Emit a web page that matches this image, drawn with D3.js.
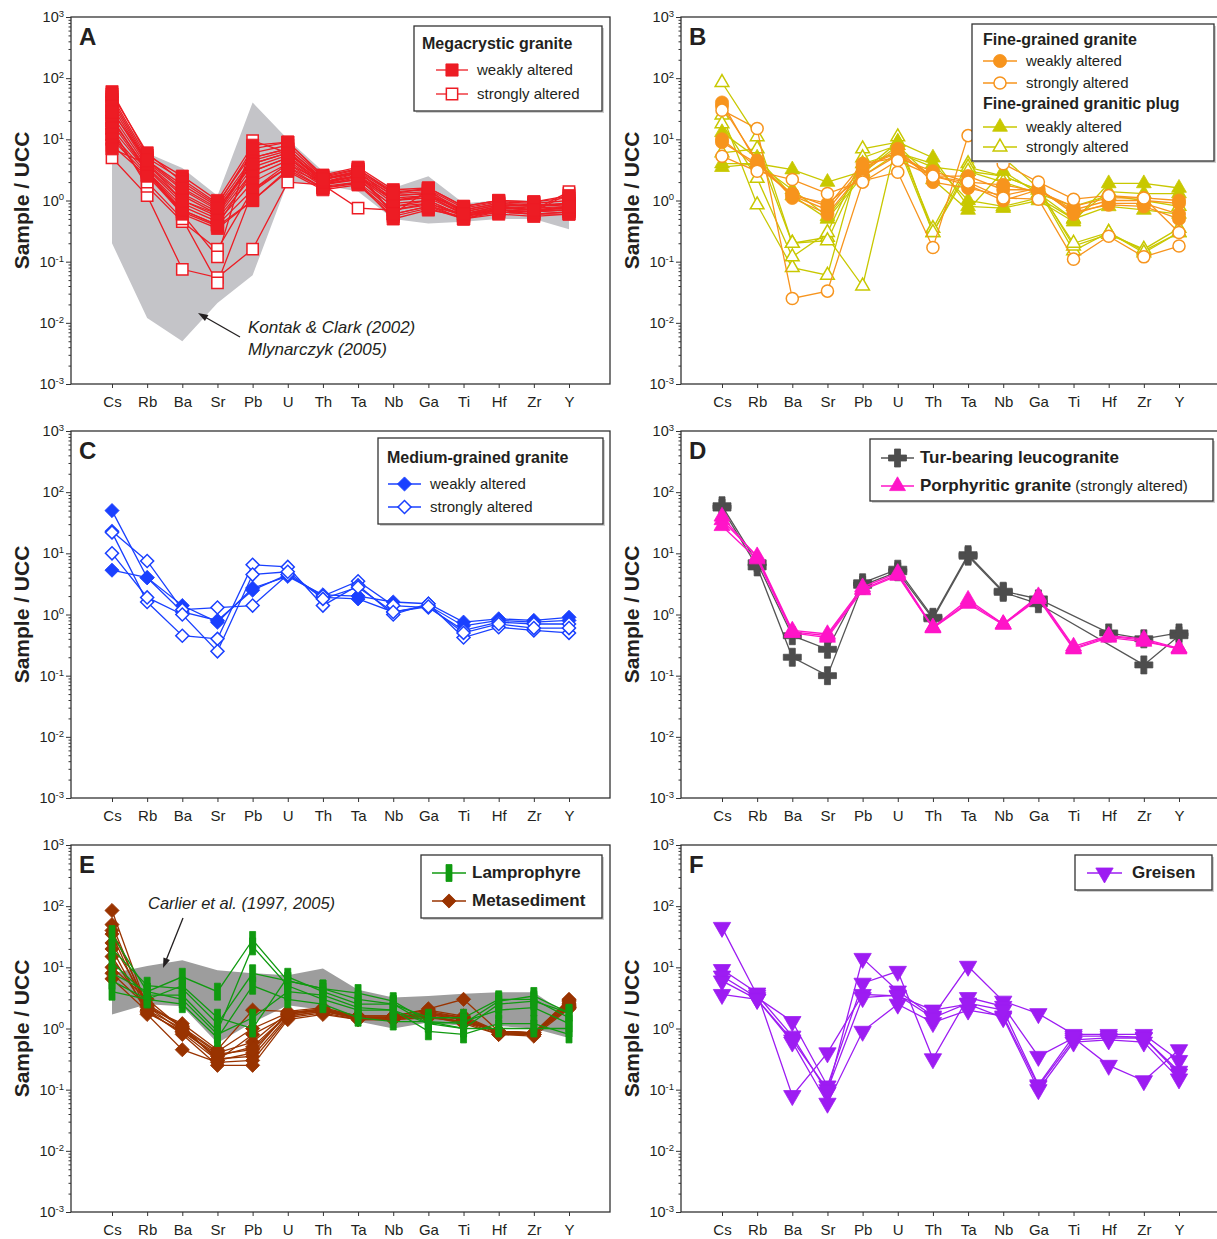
<!DOCTYPE html>
<html>
<head>
<meta charset="utf-8">
<script src="https://cdn.jsdelivr.net/npm/d3@7"></script>
<style>
  body { margin: 0; background: #fff; }
  svg text { font-family: "Liberation Sans", Arial, Helvetica, sans-serif; fill: #231f20; }
</style>
</head>
<body>
<svg id="fig" width="1217" height="1239"></svg>
<script>
// element order along the x axis
const elements = ['Cs', 'Rb', 'Ba', 'Sr', 'Pb', 'U', 'Th', 'Ta', 'Nb', 'Ga', 'Ti', 'Hf', 'Zr', 'Y'];
const decades = [-3, -2, -1, 0, 1, 2, 3];

// --- panel A: megacrystic granite (Sample / UCC) ---
const megaWeak = [
  [60, 5.5, 2.5, 1.0, 8, 9, 2.6, 3.5, 1.5, 1.6, 0.8, 1.0, 0.95, 1.1],
  [50, 5, 2.2, 0.9, 6, 8, 2.4, 3.2, 1.4, 1.5, 0.75, 0.95, 0.9, 1.0],
  [45, 4.5, 1.8, 0.8, 5, 7, 2.2, 3.0, 1.3, 1.4, 0.7, 0.9, 0.85, 0.9],
  [40, 4.2, 1.5, 0.7, 4.5, 6.5, 2.0, 2.8, 1.2, 1.3, 0.65, 0.85, 0.8, 0.85],
  [35, 4, 1.3, 0.65, 4, 6, 2.0, 2.6, 1.1, 1.2, 0.6, 0.8, 0.75, 0.8],
  [30, 3.8, 1.2, 0.6, 3.5, 5.5, 1.9, 2.5, 1.0, 1.1, 0.6, 0.8, 0.7, 0.75],
  [25, 3.5, 1.0, 0.55, 3, 5, 1.8, 2.4, 0.9, 1.0, 0.55, 0.75, 0.7, 0.7],
  [20, 3.3, 0.9, 0.5, 2.5, 4.5, 1.8, 2.2, 0.8, 0.9, 0.55, 0.7, 0.65, 0.7],
  [18, 3, 0.8, 0.45, 2, 4, 1.7, 2.0, 0.7, 0.85, 0.5, 0.7, 0.6, 0.65],
  [15, 3, 0.7, 0.4, 1.5, 3.5, 1.6, 1.9, 0.6, 0.8, 0.5, 0.65, 0.6, 0.6],
  [12, 2.8, 0.65, 0.38, 1.0, 3, 1.5, 1.8, 0.55, 0.75, 0.5, 0.6, 0.55, 0.6],
  [10, 2.6, 0.6, 0.35, 1.0, 3.2, 1.6, 2.0, 0.5, 0.7, 0.55, 0.65, 0.6, 0.65],
  [8, 2.5, 0.7, 0.4, 3, 5, 2.0, 2.5, 0.6, 1.5, 0.6, 0.7, 0.65, 0.7],
  [7, 4, 1.0, 0.6, 5, 7, 2.3, 3.0, 1.0, 1.2, 0.7, 0.9, 0.8, 0.9],
  [55, 6, 2.0, 0.85, 7, 9, 2.5, 3.3, 1.3, 1.6, 0.8, 1.0, 0.95, 1.2],
  [28, 4.5, 1.6, 0.75, 4, 6, 2.2, 2.9, 0.6, 0.8, 0.6, 0.75, 0.7, 0.8]
];
const megaStrong = [
  [5, 1.2, 0.075, 0.055, 0.16, 2.0, 1.8, 0.75, 0.7, 0.9, 0.6, 0.7, 0.65, 1.3],
  [15, 1.7, 0.45, 0.16, 1.5, 4, 2.0, 2.5, 1.0, 1.2, 0.6, 0.8, 0.7, 1.4],
  [22, 3, 0.6, 0.12, 9.5, 6, 2.2, 2.8, 1.2, 1.3, 0.65, 0.85, 0.8, 0.9],
  [12, 2, 0.5, 0.045, 1.4, 3.5, 1.9, 2.2, 0.8, 1.0, 0.55, 0.7, 0.65, 0.8]
];
// Kontak & Clark (2002), Mlynarczyk (2005) envelope
const kontakUpper = [45, 6, 3.4, 1.2, 40, 10, 3, 3.2, 1.6, 2.5, 0.9, 1.0, 1.0, 1.0];
const kontakLower = [0.2, 0.012, 0.005, 0.021, 0.06, 2.0, 1.8, 1.4, 0.5, 0.42, 0.45, 0.5, 0.5, 0.34];

// --- panel B: fine-grained granite and granitic plug ---
const fineWeak = [
  [40, 4, 1.2, 0.7, 3.5, 6, 2.5, 2.5, 1.5, 1.5, 0.7, 1.0, 1.0, 0.9],
  [35, 4.5, 1.1, 0.6, 3, 7, 2, 1.6, 1.2, 1.6, 0.6, 0.9, 0.9, 0.6],
  [10, 3.5, 1.3, 0.8, 4, 5, 3, 2, 1.8, 1.4, 0.8, 1.1, 1.1, 1.0],
  [9, 4, 1.2, 0.9, 2.5, 5.5, 2.5, 1.8, 1.0, 1.5, 0.65, 0.85, 0.8, 0.5]
];
const fineStrong = [
  [5.3, 3, 2.2, 1.3, 2.1, 2.9, 0.17, 11.5, 4, 2, 1.05, 1.2, 1.1, 0.3],
  [30, 15, 0.025, 0.033, 2, 4.5, 2.5, 2, 1.1, 1.05, 0.11, 0.26, 0.12, 0.18]
];
const plugWeak = [
  [3.5, 4, 3.2, 2, 3, 9, 5, 0.8, 0.75, 1.0, 0.45, 1.9, 1.9, 1.6],
  [13, 5, 1.2, 0.5, 2.5, 6, 4, 1.0, 0.8, 1.1, 0.5, 1.4, 1.3, 1.3],
  [4, 4, 1.5, 0.55, 2.8, 8, 2.2, 0.7, 3, 1.3, 0.5, 0.8, 0.7, 0.6]
];
const plugStrong = [
  [85, 11, 0.2, 0.25, 0.04, 11, 0.3, 3, 2.5, 1.5, 0.15, 0.3, 0.15, 0.3],
  [25, 0.85, 0.08, 0.06, 7, 9, 0.35, 4, 5, 1.6, 0.18, 0.28, 0.16, 0.35],
  [18, 2.3, 0.12, 0.3, 5, 8, 0.3, 3.5, 2.5, 1.5, 0.2, 0.3, 0.14, 0.3],
  [6, 7, 0.2, 0.22, 4, 6, 3.5, 3, 2, 1.3, 0.8, 1.2, 1.0, 0.8]
];

// --- panel C: medium-grained granite ---
const mediumWeak = [
  [50, 4, 1.4, 0.75, 2.7, 4.2, 2.1, 2, 1.6, 1.5, 0.75, 0.85, 0.8, 0.9],
  [5.3, 4, 1.1, 0.8, 2.5, 4.5, 1.9, 1.8, 1.1, 1.4, 0.65, 0.8, 0.75, 0.8]
];
const mediumStrong = [
  [23, 7.5, 1.2, 1.3, 1.4, 4.5, 2, 3.5, 1.4, 1.3, 0.55, 0.75, 0.7, 0.7],
  [22, 1.6, 0.45, 0.4, 6.5, 6, 1.4, 3, 1.0, 1.5, 0.42, 0.62, 0.55, 0.5],
  [10, 1.9, 1.0, 0.25, 4.5, 5, 1.8, 2.8, 1.1, 1.35, 0.5, 0.7, 0.6, 0.6]
];

// --- panel D: Tur-bearing leucogranite, porphyritic granite ---
const turLeuco = [
  [60, 7, 0.45, 0.27, 3.3, 5.5, 0.9, 9.5, 2.4, 1.8, null, 0.5, 0.4, 0.5],
  [55, 6, 0.2, 0.1, 3.0, 5.0, 0.85, 9.0, 2.3, 1.5, null, null, 0.15, 0.45]
];
const porphyritic = [
  [35, 9, 0.55, 0.48, 2.8, 4.8, 0.62, 1.75, 0.7, 2.0, 0.3, 0.45, 0.4, 0.28],
  [28, 8, 0.5, 0.42, 2.5, 4.3, 0.6, 1.5, 0.68, 1.8, 0.27, 0.42, 0.36, 0.28],
  [40, 8.5, 0.52, 0.45, 2.6, 4.5, 0.6, 1.6, 0.7, 1.9, 0.28, 0.44, 0.38, 0.27]
];

// --- panel E: lamprophyre and metasediment ---
const lamprophyre = [
  [35, 4, 7, 4, 28, 6, 4.5, 3.8, 2.8, 1.3, 1.2, 2.8, 3.4, 1.8],
  [20, 5, 4.5, 1.2, 8, 6, 4.5, 3.0, 2.5, 1.5, 1.5, 3.0, 3.0, 1.5],
  [12, 3.5, 3.5, 0.9, 22, 5, 3, 2.0, 2.0, 0.9, 0.8, 1.2, 1.2, 0.8],
  [4, 3, 2.5, 0.7, 5, 3, 2.5, 1.5, 1.3, 1.3, 1.0, 1.0, 1.0, 1.0],
  [6, 3, 5, 1.5, 1.0, 7, 4, 2.5, 2.5, 1.2, 1.3, 2.0, 2.2, 1.2],
  [8, 4, 3, 0.8, 1.5, 4, 3.5, 2.2, 2.0, 1.2, 1.0, 2.5, 2.8, 1.8]
];
const metasediment = [
  [85, 2.2, 1.2, 0.45, 2.0, 1.9, 2.2, 1.6, 1.6, 2.1, 3.0, 0.9, 0.85, 3.0],
  [50, 2.0, 1.0, 0.4, 0.6, 1.8, 2.0, 1.5, 1.5, 1.8, 1.5, 0.85, 0.8, 2.8],
  [35, 1.8, 0.9, 0.35, 0.5, 1.7, 2.0, 1.5, 1.5, 1.7, 1.4, 0.85, 0.8, 2.5],
  [25, 2.5, 1.1, 0.3, 0.4, 1.8, 2.1, 1.5, 1.5, 1.6, 1.3, 0.9, 0.85, 2.3],
  [20, 1.7, 0.45, 0.28, 0.3, 1.5, 1.8, 1.4, 1.4, 1.5, 1.3, 0.8, 0.8, 2.2],
  [15, 2.0, 0.8, 0.25, 0.25, 1.4, 1.7, 1.4, 1.4, 1.6, 1.2, 0.8, 0.75, 2.1],
  [10, 3.0, 1.0, 0.32, 0.35, 1.6, 1.9, 1.5, 1.5, 1.7, 1.4, 0.85, 0.8, 2.4],
  [8, 2.3, 0.9, 0.38, 0.45, 1.7, 2.0, 1.5, 1.5, 1.9, 1.5, 0.9, 0.85, 2.6],
  [6.5, 1.9, 0.85, 0.3, 0.8, 1.6, 1.9, 1.45, 1.45, 1.8, 1.4, 0.85, 0.8, 2.2],
  [40, 2.4, 1.05, 0.42, 1.0, 1.8, 2.1, 1.6, 1.6, 2.0, 1.6, 0.9, 0.85, 2.9]
];
// Carlier et al. (1997, 2005) envelope
const carlierUpper = [8, 10.5, 13, 9, 8, 7.4, 9.6, 4.3, 3.2, 3.4, 3.7, 3.9, 3.9, 1.6];
const carlierLower = [1.7, 2.5, 2.3, 0.58, 1.25, 2.4, 2.0, 1.3, 1.0, 1.25, 1.1, 1.1, 1.0, 0.7];

// --- panel F: greisen ---
const greisen = [
  [45, 3.5, 0.75, 0.09, 14, 4.1, 1.6, 10.4, 2.8, 1.75, 0.8, 0.8, 0.8, 0.3],
  [9.2, 3.8, 0.08, 0.4, 3.6, 3.4, 2.0, 2.5, 1.5, 0.1, 0.6, 0.65, 0.6, 0.15],
  [7.2, 3.2, 1.3, 0.115, 5.5, 8.6, 0.32, 3.2, 2.3, 0.35, 0.7, 0.25, 0.14, 0.45],
  [3.6, 3.0, 0.6, 0.06, 0.9, 2.5, 1.25, 2.0, 1.6, 0.115, 0.65, 0.7, 0.7, 0.2],
  [6, 3, 0.65, 0.1, 3.2, 3.5, 1.5, 2.6, 2.0, 0.12, 0.75, 0.75, 0.72, 0.18]
];

// colours
const RED = '#ed1c24', ORANGE = '#f7941d', OLIVE = '#c8c800', BLUE = '#1a40ff';
const GREY = '#4d4d4d', MAGENTA = '#ff14c8', GREEN = '#109a10', BROWN = '#993300', PURPLE = '#9d1cf2';

const svg = d3.select('#fig');

const x = d3.scalePoint().domain(elements).range([112, 569]);
const y = d3.scaleLog().domain([1e-3, 1e3]).range([384, 17]);
const frame = { left: 71, right: 610, top: 17, bottom: 384 };

function symbolPath(shape, size) {
  if (shape === 'bar') return 'M-3,-8.5h6v17h-6Z';
  const types = {
    square: d3.symbolSquare, circle: d3.symbolCircle, triangle: d3.symbolTriangle,
    triDown: d3.symbolTriangle, diamond: d3.symbolSquare, cross: d3.symbolCross
  };
  return d3.symbol().type(types[shape]).size(size)();
}

function drawMarker(g, shape, size, color, open, cx, cy) {
  let rot = shape === 'diamond' ? 45 : shape === 'triDown' ? 180 : 0;
  g.append('path')
    .attr('d', symbolPath(shape, open ? size * 0.85 : size))
    .attr('transform', `translate(${cx},${cy}) rotate(${rot})`)
    .attr('fill', open ? '#fff' : color)
    .attr('stroke', color)
    .attr('stroke-width', open ? 1.5 : 0.8);
}

const line = d3.line().x(p => x(p.el)).y(p => y(p.v));

function drawGroup(g, grp) {
  const gg = g.append('g');
  grp.data.forEach(s => {
    const pts = elements.map((el, i) => ({ el, v: s[i] })).filter(p => p.v != null);
    gg.append('path').attr('d', line(pts))
      .attr('fill', 'none').attr('stroke', grp.line || grp.color).attr('stroke-width', 1.3);
  });
  grp.data.forEach(s => {
    elements.forEach((el, i) => {
      if (s[i] == null) return;
      drawMarker(gg, grp.shape, grp.size, grp.color, grp.open, x(el), y(s[i]));
    });
  });
}

function drawBand(g, upper, lower, fill) {
  const pts = elements.map((el, i) => [x(el), y(upper[i])])
    .concat(elements.map((el, i) => [x(el), y(lower[i])]).reverse());
  g.append('path').attr('d', 'M' + pts.join('L') + 'Z').attr('fill', fill);
}

function drawAxes(g, letter) {
  // y axis: decade ticks plus minor ticks
  const minors = [];
  decades.slice(0, -1).forEach(d => { for (let k = 2; k <= 9; k++) minors.push(k * Math.pow(10, d)); });
  const yMinor = g.append('g').attr('transform', `translate(${frame.left},0)`)
    .call(d3.axisLeft(y).tickValues(minors).tickSize(2.5).tickFormat(''));
  const yMajor = g.append('g').attr('transform', `translate(${frame.left},0)`)
    .call(d3.axisLeft(y).tickValues(decades.map(d => Math.pow(10, d))).tickSize(5).tickFormat(''));
  [yMinor, yMajor].forEach(a => {
    a.select('.domain').remove();
    a.selectAll('line').attr('stroke', '#333');
  });
  decades.forEach(d => {
    const t = g.append('text').attr('x', 64).attr('y', y(Math.pow(10, d))).attr('dy', '0.35em')
      .attr('text-anchor', 'end').attr('font-size', 14.5);
    t.append('tspan').text('10');
    t.append('tspan').attr('dy', '-0.55em').attr('font-size', 9.5).text(d);
  });

  const xAx = g.append('g').attr('transform', `translate(0,${frame.bottom})`)
    .call(d3.axisBottom(x).tickSize(4).tickPadding(8));
  xAx.select('.domain').remove();
  xAx.selectAll('line').attr('stroke', '#333');
  xAx.selectAll('text').attr('font-size', 15).attr('font-family', '"Liberation Sans", Arial, sans-serif')
    .attr('fill', '#231f20');

  g.append('rect').attr('x', frame.left).attr('y', frame.top)
    .attr('width', frame.right - frame.left).attr('height', frame.bottom - frame.top)
    .attr('fill', 'none').attr('stroke', '#333').attr('stroke-width', 1.3);

  g.append('text').attr('transform', `translate(29,${(frame.top + frame.bottom) / 2}) rotate(-90)`)
    .attr('text-anchor', 'middle').attr('font-size', 21).attr('font-weight', 'bold')
    .text('Sample / UCC');

  g.append('text').attr('x', 79).attr('y', 45).attr('font-size', 24).attr('font-weight', 'bold')
    .text(letter);
}

// legend: rows are {title} or {label, grp, bold, extra}
function drawLegend(g, box, rows) {
  g.append('rect').attr('x', box.x + 2).attr('y', box.y + 2).attr('width', box.w).attr('height', box.h)
    .attr('fill', '#d0d0d0');
  g.append('rect').attr('x', box.x).attr('y', box.y).attr('width', box.w).attr('height', box.h)
    .attr('fill', '#fff').attr('stroke', '#333').attr('stroke-width', 1.3);
  rows.forEach(r => {
    if (r.title) {
      g.append('text').attr('x', r.x).attr('y', r.y).attr('font-size', r.fs || 16)
        .attr('font-weight', 'bold').text(r.title);
      return;
    }
    const cy = r.y - 5;
    g.append('line').attr('x1', box.lx0).attr('x2', box.lx1).attr('y1', cy).attr('y2', cy)
      .attr('stroke', r.grp.line || r.grp.color).attr('stroke-width', 1.3);
    drawMarker(g, r.grp.shape, r.grp.size, r.grp.color, r.grp.open, (box.lx0 + box.lx1) / 2, cy);
    const t = g.append('text').attr('x', box.tx).attr('y', r.y).attr('font-size', r.fs || 15)
      .attr('font-weight', r.bold ? 'bold' : 'normal');
    t.append('tspan').text(r.label);
    if (r.extra) t.append('tspan').attr('font-weight', 'normal').attr('font-size', 15).text(r.extra);
  });
}

function drawArrow(g, x1, y1, x2, y2) {
  const a = Math.atan2(y2 - y1, x2 - x1), L = 10, W = 3.5;
  g.append('line').attr('x1', x1).attr('y1', y1).attr('x2', x2 - L * 0.8 * Math.cos(a)).attr('y2', y2 - L * 0.8 * Math.sin(a))
    .attr('stroke', '#231f20').attr('stroke-width', 1.3);
  const bx = x2 - L * Math.cos(a), by = y2 - L * Math.sin(a);
  g.append('path').attr('d', `M${x2},${y2}L${bx - W * Math.sin(a)},${by + W * Math.cos(a)}L${bx + W * Math.sin(a)},${by - W * Math.cos(a)}Z`)
    .attr('fill', '#231f20');
}

function panel(ox, oy) {
  return svg.append('g').attr('transform', `translate(${ox},${oy})`);
}

// ---------- A ----------
{
  const g = panel(0, 0);
  drawBand(g, kontakUpper, kontakLower, '#c4c4c8');
  const w = { data: megaWeak, color: RED, shape: 'square', size: 150, open: false };
  const s = { data: megaStrong, color: RED, shape: 'square', size: 150, open: true };
  drawGroup(g, s); drawGroup(g, w);
  drawAxes(g, 'A');
  drawLegend(g, { x: 414, y: 26, w: 188, h: 85, lx0: 436, lx1: 468, tx: 477 }, [
    { title: 'Megacrystic granite', x: 422, y: 49 },
    { label: 'weakly altered', grp: w, y: 75 },
    { label: 'strongly altered', grp: s, y: 99 }
  ]);
  g.append('text').attr('x', 248).attr('y', 333).attr('font-size', 17).attr('font-style', 'italic')
    .text('Kontak & Clark (2002)');
  g.append('text').attr('x', 248).attr('y', 355).attr('font-size', 17).attr('font-style', 'italic')
    .text('Mlynarczyk (2005)');
  drawArrow(g, 240, 337, 198, 313);
}

// ---------- B ----------
{
  const g = panel(610, 0);
  const ps = { data: plugStrong, color: OLIVE, shape: 'triangle', size: 95, open: true };
  const pw = { data: plugWeak, color: OLIVE, shape: 'triangle', size: 95, open: false };
  const fw = { data: fineWeak, color: ORANGE, shape: 'circle', size: 135, open: false };
  const fs = { data: fineStrong, color: ORANGE, shape: 'circle', size: 135, open: true };
  drawGroup(g, ps); drawGroup(g, pw); drawGroup(g, fw); drawGroup(g, fs);
  drawAxes(g, 'B');
  drawLegend(g, { x: 362, y: 24, w: 242, h: 137, lx0: 373, lx1: 407, tx: 416 }, [
    { title: 'Fine-grained granite', x: 373, y: 45 },
    { label: 'weakly altered', grp: fw, y: 66 },
    { label: 'strongly altered', grp: fs, y: 88 },
    { title: 'Fine-grained granitic plug', x: 373, y: 109 },
    { label: 'weakly altered', grp: pw, y: 132 },
    { label: 'strongly altered', grp: ps, y: 152 }
  ]);
}

// ---------- C ----------
{
  const g = panel(0, 414);
  const w = { data: mediumWeak, color: BLUE, shape: 'diamond', size: 100, open: false };
  const s = { data: mediumStrong, color: BLUE, shape: 'diamond', size: 100, open: true };
  drawGroup(g, w); drawGroup(g, s);
  drawAxes(g, 'C');
  drawLegend(g, { x: 378, y: 24, w: 225, h: 86, lx0: 388, lx1: 421, tx: 430 }, [
    { title: 'Medium-grained granite', x: 387, y: 49 },
    { label: 'weakly altered', grp: w, y: 75 },
    { label: 'strongly altered', grp: s, y: 98 }
  ]);
}

// ---------- D ----------
{
  const g = panel(610, 414);
  const t = { data: turLeuco, color: GREY, line: '#555', shape: 'cross', size: 180, open: false };
  const p = { data: porphyritic, color: MAGENTA, shape: 'triangle', size: 110, open: false };
  drawGroup(g, t); drawGroup(g, p);
  drawAxes(g, 'D');
  drawLegend(g, { x: 260, y: 25, w: 343, h: 62, lx0: 271, lx1: 304, tx: 310 }, [
    { label: 'Tur-bearing leucogranite', grp: t, y: 49, bold: true, fs: 17 },
    { label: 'Porphyritic granite', extra: ' (strongly altered)', grp: p, y: 77, bold: true, fs: 17 }
  ]);
}

// ---------- E ----------
{
  const g = panel(0, 828);
  drawBand(g, carlierUpper, carlierLower, '#9d9d9d');
  const m = { data: metasediment, color: BROWN, shape: 'diamond', size: 100, open: false };
  const l = { data: lamprophyre, color: GREEN, shape: 'bar', size: 0, open: false };
  drawGroup(g, m); drawGroup(g, l);
  drawAxes(g, 'E');
  drawLegend(g, { x: 421, y: 27, w: 181, h: 63, lx0: 432, lx1: 466, tx: 472 }, [
    { label: 'Lamprophyre', grp: l, y: 50, bold: true, fs: 17 },
    { label: 'Metasediment', grp: m, y: 78, bold: true, fs: 17 }
  ]);
  g.append('text').attr('x', 148).attr('y', 81).attr('font-size', 16.5).attr('font-style', 'italic')
    .text('Carlier et al. (1997, 2005)');
  drawArrow(g, 183, 90, 163, 140);
}

// ---------- F ----------
{
  const g = panel(610, 828);
  const gr = { data: greisen, color: PURPLE, shape: 'triDown', size: 130, open: false };
  drawGroup(g, gr);
  drawAxes(g, 'F');
  drawLegend(g, { x: 465, y: 27, w: 137, h: 35, lx0: 477, lx1: 512, tx: 522 }, [
    { label: 'Greisen', grp: gr, y: 50, bold: true, fs: 17 }
  ]);
}
</script>
</body>
</html>
